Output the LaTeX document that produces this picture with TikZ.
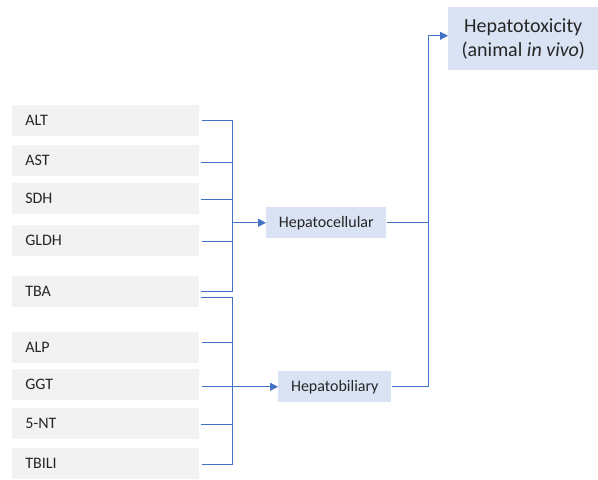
\documentclass[tikz,border=0pt]{standalone}
\usepackage{fontspec}
\setmainfont{Carlito}
\usetikzlibrary{arrows.meta}
\definecolor{lineblue}{HTML}{4472C4}
\definecolor{boxgray}{HTML}{F2F2F2}
\definecolor{boxblue}{HTML}{DAE3F3}
\definecolor{txt}{HTML}{262626}
\begin{document}
\begin{tikzpicture}[x=0.75pt,y=-0.75pt,
  item/.style={fill=boxgray,draw=none,anchor=north west,minimum width=187*0.75pt,minimum height=31*0.75pt,
    text width=161*0.75pt,inner xsep=13*0.75pt,inner ysep=0pt,align=left,font=\fontsize{12pt}{14pt}\selectfont,text=txt},
  group/.style={fill=boxblue,draw=none,anchor=north west,minimum height=31*0.75pt,inner ysep=0pt,
    font=\fontsize{12pt}{14pt}\selectfont,text=txt},
  conn/.style={draw=lineblue,line width=0.75pt},
  arr/.style={conn,-{Triangle[length=8*0.75pt,width=8*0.75pt]}}]
\useasboundingbox (0,0) rectangle (598,479);
% left items
\node[item] (alt) at (12,105) {ALT};
\node[item] (ast) at (12,145) {AST};
\node[item] (sdh) at (12,183) {SDH};
\node[item] (gldh) at (12,225) {GLDH};
\node[item] (tba) at (12,276) {TBA};
\node[item] (alp) at (12,332) {ALP};
\node[item] (ggt) at (12,369) {GGT};
\node[item] (nt) at (12,408) {5-NT};
\node[item] (tbili) at (12,448) {TBILI};
% group boxes
\node[group,minimum width=120*0.75pt] (hc) at (266,207) {Hepatocellular};
\node[group,minimum width=113*0.75pt] (hb) at (278,371) {Hepatobiliary};
\node[fill=boxblue,anchor=north west,minimum width=150*0.75pt,minimum height=63*0.75pt,align=center,
  font=\fontsize{15pt}{18pt}\selectfont,text=txt,inner sep=0pt] (tox) at (448,7) {Hepatotoxicity\\(animal \textit{in vivo})};
% bus coordinates
\coordinate (bA) at (232,0);
\coordinate (bC) at (428,0);
% hepatocellular bus
\draw[conn] ([xshift=2*0.75pt,yshift=0*0.75pt]alt.east) -- ([yshift=0*0.75pt]alt.east -| bA) -- (tba.east -| bA) -- ([xshift=1*0.75pt]tba.east);
\draw[conn] ([xshift=1*0.75pt,yshift=-2*0.75pt]ast.east) -- ([yshift=-2*0.75pt]ast.east -| bA);
\draw[conn] ([xshift=1*0.75pt,yshift=-1*0.75pt]sdh.east) -- ([yshift=-1*0.75pt]sdh.east -| bA);
\draw[conn] ([xshift=2*0.75pt,yshift=-1*0.75pt]gldh.east) -- ([yshift=-1*0.75pt]gldh.east -| bA);
\draw[arr] (hc.west -| bA) -- (hc.west);
% hepatobiliary bus
\draw[conn] ([xshift=1*0.75pt,yshift=-6*0.75pt]tba.east) -- ([yshift=-6*0.75pt]tba.east -| bA) -- ([yshift=-1*0.75pt]tbili.east -| bA) -- ([xshift=2*0.75pt,yshift=-1*0.75pt]tbili.east);
\draw[conn] ([xshift=2*0.75pt,yshift=5*0.75pt]alp.east) -- ([yshift=5*0.75pt]alp.east -| bA);
\draw[conn] ([xshift=1*0.75pt,yshift=-1*0.75pt]nt.east) -- ([yshift=-1*0.75pt]nt.east -| bA);
\draw[arr] ([xshift=2*0.75pt]ggt.east |- hb.west) -- (hb.west);
% to hepatotoxicity
\draw[conn] (hc.east) -- (hc.east -| bC);
\draw[arr] (hb.east) -- (hb.east -| bC) -- ([yshift=3*0.75pt]tox.west -| bC) -- ([yshift=3*0.75pt]tox.west);
\end{tikzpicture}
\end{document}
